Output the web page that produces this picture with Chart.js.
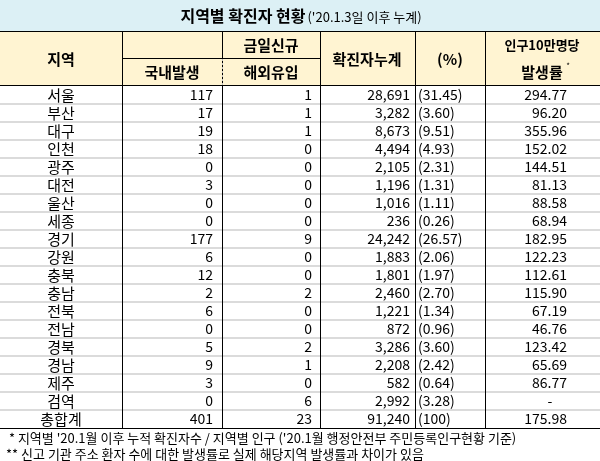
<!DOCTYPE html>
<html><head><meta charset="utf-8">
<script src="https://cdn.jsdelivr.net/npm/chart.js@4/dist/chart.umd.min.js"></script>
<style>html,body{margin:0;background:#fff}#wrap{width:600px;height:461px}</style>
</head><body><div id="wrap"><canvas id="c"></canvas></div>
<script>
const regions = ["서울","부산","대구","인천","광주","대전","울산","세종","경기","강원","충북","충남","전북","전남","경북","경남","제주","검역","총합계"];
const domestic = [117,17,19,18,0,3,0,0,177,6,12,2,6,0,5,9,3,0,401];
const overseas = [1,1,1,0,0,0,0,0,9,0,0,2,0,0,2,1,0,6,23];
const cumulative = ["28,691","3,282","8,673","4,494","2,105","1,196","1,016","236","24,242","1,883","1,801","2,460","1,221","872","3,286","2,208","582","2,992","91,240"];
const percent = ["(31.45)","(3.60)","(9.51)","(4.93)","(2.31)","(1.31)","(1.11)","(0.26)","(26.57)","(2.06)","(1.97)","(2.70)","(1.34)","(0.96)","(3.60)","(2.42)","(0.64)","(3.28)","(100)"];
const per100k = ["294.77","96.20","355.96","152.02","144.51","81.13","88.58","68.94","182.95","122.23","112.61","115.90","67.19","46.76","123.42","65.69","86.77","-","175.98"];
const colEdges = [0,122,222,320,415,485,600];

const F = '"Noto Sans CJK KR", sans-serif';

const tablePlugin = {
  id: "table",
  afterDraw(chart) {
    const ctx = chart.ctx, xs = chart.scales.x, ys = chart.scales.y;
    const X = v => xs.getPixelForValue(v);
    const top = chart.chartArea.top, bot = chart.chartArea.bottom;
    const rowH = ys.getPixelForValue(1) - ys.getPixelForValue(0);
    ctx.save();
    ctx.fillStyle = "#dcf0f5"; ctx.fillRect(X(0), 0, X(600) - X(0), 31);
    ctx.fillStyle = "#fff4d2"; ctx.fillRect(X(0), 32, X(600) - X(0), top - 32);
    ctx.fillStyle = "#000"; ctx.textBaseline = "middle";
    ctx.font = "bold 16px " + F;
    const t1 = "지역별 확진자 현황", t2 = "('20.1.3일 이후 누계)";
    const w1 = ctx.measureText(t1).width;
    ctx.font = "13px " + F;
    const w2 = ctx.measureText(t2).width;
    let sx = 300 - (w1 + w2) / 2;
    ctx.font = "bold 16px " + F; ctx.textAlign = "left"; ctx.fillText(t1, sx, 16);
    ctx.font = "13px " + F; ctx.fillText(t2, sx + w1 + 2, 17);
    ctx.textAlign = "center";
    ctx.font = "bold 15px " + F;
    ctx.fillText("지역", X(61), 59);
    ctx.fillText("금일신규", X(271), 45);
    ctx.fillText("국내발생", X(172), 72);
    ctx.fillText("해외유입", X(271), 72);
    ctx.fillText("확진자누계", X(367), 59);
    ctx.fillText("(%)", X(450), 59);
    ctx.font = "bold 13px " + F; ctx.fillText("인구10만명당", X(542), 45);
    ctx.font = "bold 15px " + F; ctx.fillText("발생률", X(542), 72);
    ctx.font = "8px " + F; ctx.fillText("*", X(568), 66);
    regions.forEach((r, i) => {
      const y = ys.getPixelForValue(i);
      ctx.font = "15px " + F; ctx.textAlign = "center"; ctx.fillText(r, X(61), y);
      ctx.font = "14px " + F; ctx.textAlign = "right";
      ctx.fillText(domestic[i], X(213), y);
      ctx.fillText(overseas[i], X(312), y);
      ctx.fillText(cumulative[i], X(410), y);
      ctx.textAlign = "left"; ctx.fillText(percent[i], X(418), y);
      if (per100k[i] === "-") { ctx.textAlign = "center"; ctx.fillText("-", X(550), y); }
      else { ctx.textAlign = "right"; ctx.fillText(per100k[i], X(567), y); }
      if (i > 0) {
        ctx.strokeStyle = "#999"; ctx.lineWidth = 0.7; ctx.beginPath();
        ctx.moveTo(X(0), y - rowH / 2); ctx.lineTo(X(600), y - rowH / 2); ctx.stroke();
      }
    });
    ctx.strokeStyle = "#000"; ctx.lineWidth = 1;
    const hl = (y, a = 0, b = 600) => { ctx.beginPath(); ctx.moveTo(X(a), y); ctx.lineTo(X(b), y); ctx.stroke(); };
    const vl = (x, a, b) => { ctx.beginPath(); ctx.moveTo(X(x) + 0.5, a); ctx.lineTo(X(x) + 0.5, b); ctx.stroke(); };
    hl(31.5); hl(top - 0.5); hl(bot + 0.5); hl(58.5, 122, 320);
    colEdges.slice(1, -1).forEach(e => vl(e, 32, bot));
    ctx.strokeStyle = "#bbb"; ctx.setLineDash([2, 2]); vl(222, 59, top - 1); ctx.setLineDash([]);
    ctx.fillStyle = "#000"; ctx.textAlign = "left"; ctx.font = "13px " + F;
    ctx.fillText(" * 지역별 '20.1월 이후 누적 확진자수 / 지역별 인구 ('20.1월 행정안전부 주민등록인구현황 기준)", 6, bot + 10);
    ctx.fillText("** 신고 기관 주소 환자 수에 대한 발생률로 실제 해당지역 발생률과 차이가 있음", 6, bot + 26);
    ctx.restore();
  }
};

new Chart(document.getElementById("c"), {
  type: "scatter",
  data: { labels: regions, datasets: [{ data: [], showLine: false }] },
  options: {
    responsive: true, maintainAspectRatio: false, animation: false,
    layout: { padding: { top: 86, bottom: 33, left: 0, right: 0 } },
    plugins: { legend: { display: false }, tooltip: { enabled: false } },
    scales: {
      x: { type: "linear", min: 0, max: 600, display: false },
      y: { type: "category", labels: regions, offset: true, display: false }
    }
  },
  plugins: [tablePlugin]
});
</script></body></html>
